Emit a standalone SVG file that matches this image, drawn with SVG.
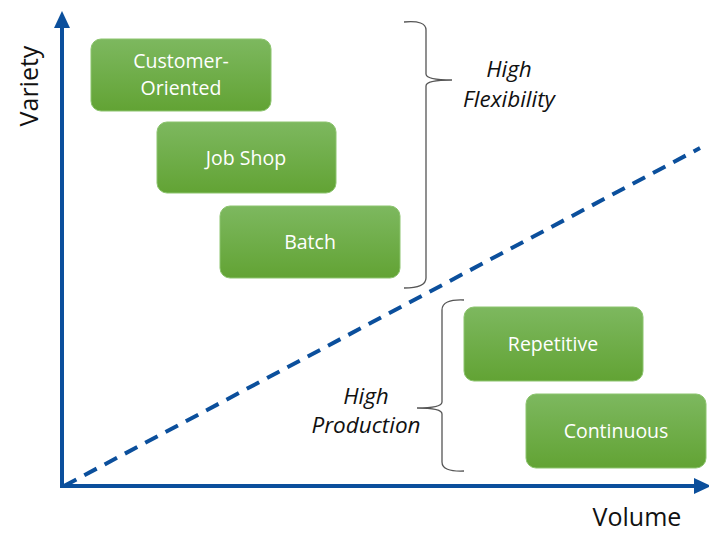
<svg xmlns="http://www.w3.org/2000/svg" width="709" height="535" viewBox="0 0 709 535">
<defs>
<linearGradient id="g" x1="0" y1="0" x2="0" y2="1">
<stop offset="0" stop-color="#7db85f"/>
<stop offset="1" stop-color="#62a334"/>
</linearGradient>
<style>
.box{fill:url(#g);stroke:#8cc46e;stroke-width:1}
.bt{font-family:"Open Sans","Liberation Sans",sans-serif;font-size:19.5px;fill:#fff;text-anchor:middle}
.it{font-family:"Open Sans","Liberation Sans",sans-serif;font-size:22.5px;font-style:italic;fill:#111;text-anchor:middle}
.ax{font-family:"Open Sans","Liberation Sans",sans-serif;font-size:25px;fill:#111;text-anchor:middle}
.axis{stroke:#0b4f9c;stroke-width:4;fill:none}
.brace{stroke:#555;stroke-width:1.3;fill:none}
</style>
</defs>
<g id="connectors">
<line class="axis" x1="62" y1="488" x2="62" y2="26"/>
<polygon points="62,11 54,28 70,28" fill="#0b4f9c"/>
<line class="axis" x1="60" y1="486" x2="696" y2="486"/>
<polygon points="711,486 694,478 694,494" fill="#0b4f9c"/>
<line x1="64" y1="486" x2="700" y2="148" stroke="#0b4f9c" stroke-width="4" stroke-dasharray="14,9"/>
</g>
<g id="brace-flex">
<path class="brace" d="M404,22 Q426,20 426,30 L426,74 Q426,80 452,80 Q426,80 426,86 L426,278 Q426,288 404,288"/>
</g>
<g id="brace-prod">
<path class="brace" d="M464,300 Q442,299 442,310 L442,402 Q442,408 417,408 Q442,408 442,414 L442,462 Q442,472 464,471"/>
</g>
<g id="customer">
<rect class="box" x="91" y="39" width="180" height="72" rx="10"/>
<text class="bt" x="181" y="68">Customer-</text>
<text class="bt" x="181" y="95">Oriented</text>
</g>
<g id="jobshop">
<rect class="box" x="157" y="122" width="179" height="71" rx="10"/>
<text class="bt" x="246" y="165">Job Shop</text>
</g>
<g id="batch">
<rect class="box" x="220" y="206" width="180" height="72" rx="10"/>
<text class="bt" x="310" y="249">Batch</text>
</g>
<g id="repetitive">
<rect class="box" x="464" y="307" width="179" height="74" rx="10"/>
<text class="bt" x="553" y="351">Repetitive</text>
</g>
<g id="continuous">
<rect class="box" x="526" y="394" width="180" height="74" rx="10"/>
<text class="bt" x="616" y="438">Continuous</text>
</g>
<g id="labels">
<text class="it" x="509" y="77">High</text>
<text class="it" x="509" y="107">Flexibility</text>
<text class="it" x="366" y="404">High</text>
<text class="it" x="366" y="433">Production</text>
<text class="ax" x="637" y="526">Volume</text>
<text class="ax" transform="translate(38,86) rotate(-90)">Variety</text>
</g>
</svg>
